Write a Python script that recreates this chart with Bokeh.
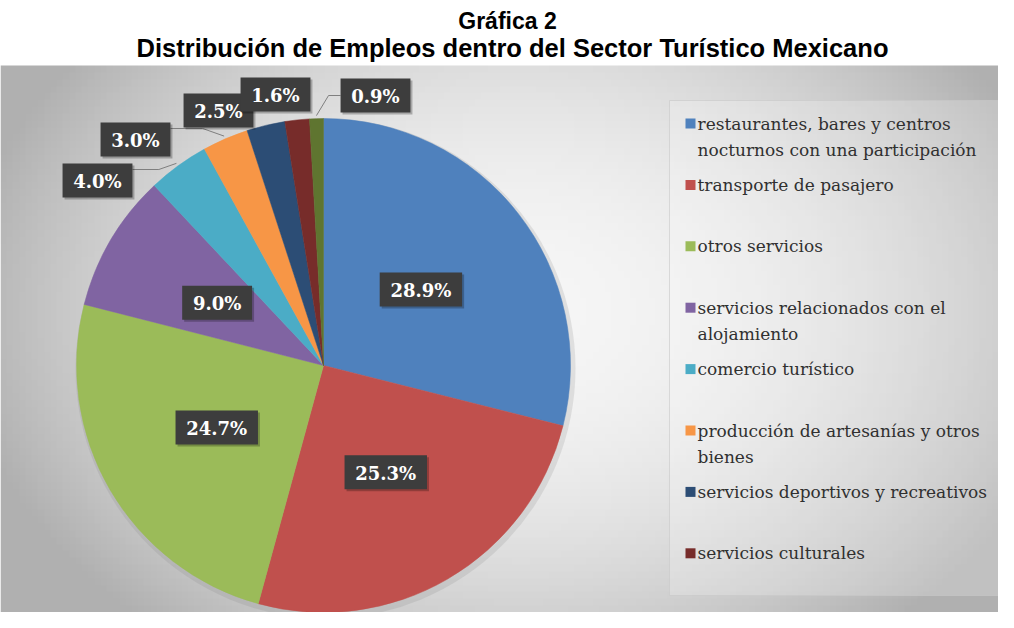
import numpy as np
from bokeh.plotting import figure
from bokeh.models import Range1d
from bokeh.embed import file_html
from bokeh.resources import INLINE
from bokeh.core.properties import value

# ---------------- data ----------------
title_line1 = "Gráfica 2"
title_line2 = "Distribución de Empleos dentro del Sector Turístico Mexicano"
categories = [
    "restaurantes, bares y centros nocturnos con una participación",
    "transporte de pasajero",
    "otros servicios",
    "servicios relacionados con el alojamiento",
    "comercio turístico",
    "producción de artesanías y otros bienes",
    "servicios deportivos y recreativos",
    "servicios culturales",
    "otros",
]
legend_lines = [
    ["restaurantes, bares y centros", "nocturnos con una participación"],
    ["transporte de pasajero"],
    ["otros servicios"],
    ["servicios relacionados con el", "alojamiento"],
    ["comercio turístico"],
    ["producción de artesanías y otros", "bienes"],
    ["servicios deportivos y recreativos"],
    ["servicios culturales"],
]
values = [28.9, 25.3, 24.7, 9.0, 4.0, 3.0, 2.5, 1.6, 0.9]
labels = ["28.9%", "25.3%", "24.7%", "9.0%", "4.0%", "3.0%", "2.5%", "1.6%", "0.9%"]
colors = ["#4F81BD", "#C0504D", "#9BBB59", "#8064A2", "#4BACC6",
          "#F79646", "#2C4D75", "#772C2A", "#5F7530"]

# ---------------- layout (screen px, y up) ----------------
W, H = 998, 612
def Y(yref):  # reference-image y -> data y
    return H - yref
def X(xref):
    return xref

cx, cy, R = X(323), Y(365), 247

p = figure(width=W, height=H, x_range=Range1d(0, W), y_range=Range1d(0, H),
           output_backend="svg", toolbar_location=None, min_border=0)
p.axis.visible = False
p.grid.visible = False
p.outline_line_color = None
p.background_fill_color = "white"
p.border_fill_color = "white"

# background gradient panel
gh, gw = 80, 160
yy, xx = np.mgrid[0:gh, 0:gw]
u = (xx / (gw - 1) - 0.52) / 0.55
v = (yy / (gh - 1) - 0.55) / 0.75
t = np.sqrt(u ** 2 + v ** 2)
g = np.clip(246 - 66 * t ** 2, 176, 246).astype(np.uint32)
img = (255 << 24) | (g << 16) | (g << 8) | g
img = img.astype(np.uint32)
p.image_rgba(image=[img], x=0, y=0, dw=W, dh=Y(65))

# legend panel
lx0, lx1, ly0, ly1 = X(669), X(1008), Y(595), Y(100)
p.quad(left=[lx0], right=[lx1], bottom=[ly0], top=[ly1],
       fill_color="white", fill_alpha=0.22, line_color="#c8c8c8", line_alpha=0.6)

# pie
vals = np.array(values)
total = vals.sum()
cum = np.concatenate([[0], np.cumsum(vals)])
start = np.pi / 2 - 2 * np.pi * cum[:-1] / total
end = np.pi / 2 - 2 * np.pi * cum[1:] / total
mid = (start + end) / 2

# soft shadow
p.circle(x=[cx + 2], y=[cy - 3], radius=R + 3, radius_units="screen",
         fill_color="#808080", fill_alpha=0.18, line_color=None)
p.wedge(x=cx, y=cy, radius=R, radius_units="screen",
        start_angle=list(start), end_angle=list(end), direction="clock",
        fill_color=colors, line_color=colors, line_width=0.5)

# label boxes
fs = 18
def box_w(s):
    nd = sum(c.isdigit() for c in s)
    return fs * (0.696 * nd + 0.38 + 1.0) + 20

box_h = 34
lab_x, lab_y = [], []
inside = 4
for i in range(len(values)):
    if i < inside:
        lab_x.append(cx + 0.5 * R * np.cos(mid[i]))
        lab_y.append(cy + 0.5 * R * np.sin(mid[i]))
outside_pos = [(97, 180), (135, 139), (218, 110), (275, 94), (375, 95)]
for (xr, yr) in outside_pos:
    lab_x.append(X(xr))
    lab_y.append(Y(yr))

# leader lines
leaders = {4: "right", 5: "right", 8: "left"}
for i, side in leaders.items():
    bw = box_w(labels[i])
    ex = cx + (R + 3) * np.cos(mid[i])
    ey = cy + (R + 3) * np.sin(mid[i])
    if side == "right":
        sx = lab_x[i] + bw / 2
        sy = lab_y[i] + box_h / 2 - 6
        kx = sx + (ex - sx) * 0.6
    else:
        sx = lab_x[i] - bw / 2
        sy = lab_y[i]
        kx = sx - 12
    p.line(x=[sx, kx, ex], y=[sy, sy, ey], line_color="#7f7f7f", line_width=1)

for i in range(len(values)):
    bw = box_w(labels[i])
    p.rect(x=[lab_x[i] + 2], y=[lab_y[i] - 2], width=bw, height=box_h,
           fill_color="black", fill_alpha=0.25, line_color=None)
    p.rect(x=[lab_x[i]], y=[lab_y[i]], width=bw, height=box_h,
           fill_color="#3d3d3d", line_color=None)
    p.text(x=[lab_x[i]], y=[lab_y[i] - 1], text=[labels[i]],
           text_font=value("DejaVu Serif"), text_font_style="bold",
           text_font_size=f"{fs}px", text_color="white",
           text_align="center", text_baseline="middle")

# legend
leg_x = X(685)
for i, lines in enumerate(legend_lines):
    y0 = Y(123 + i * 61.4)
    p.rect(x=[leg_x + 5], y=[y0], width=10, height=10,
           fill_color=colors[i], line_color=None)
    for j, ln in enumerate(lines):
        p.text(x=[leg_x + 12], y=[y0 - j * 26], text=[ln],
               text_font=value("DejaVu Serif"), text_font_size="17px",
               text_color="#303030", text_align="left", text_baseline="middle")

# title
p.text(x=[X(507)], y=[Y(20)], text=[title_line1],
       text_font=value("Liberation Sans"), text_font_style="bold",
       text_font_size="23px", text_color="black",
       text_align="center", text_baseline="middle")
p.text(x=[X(512)], y=[Y(47)], text=[title_line2],
       text_font=value("Liberation Sans"), text_font_style="bold",
       text_font_size="25.5px", text_color="black",
       text_align="center", text_baseline="middle")

open("out.html", "w").write(file_html(p, INLINE))
